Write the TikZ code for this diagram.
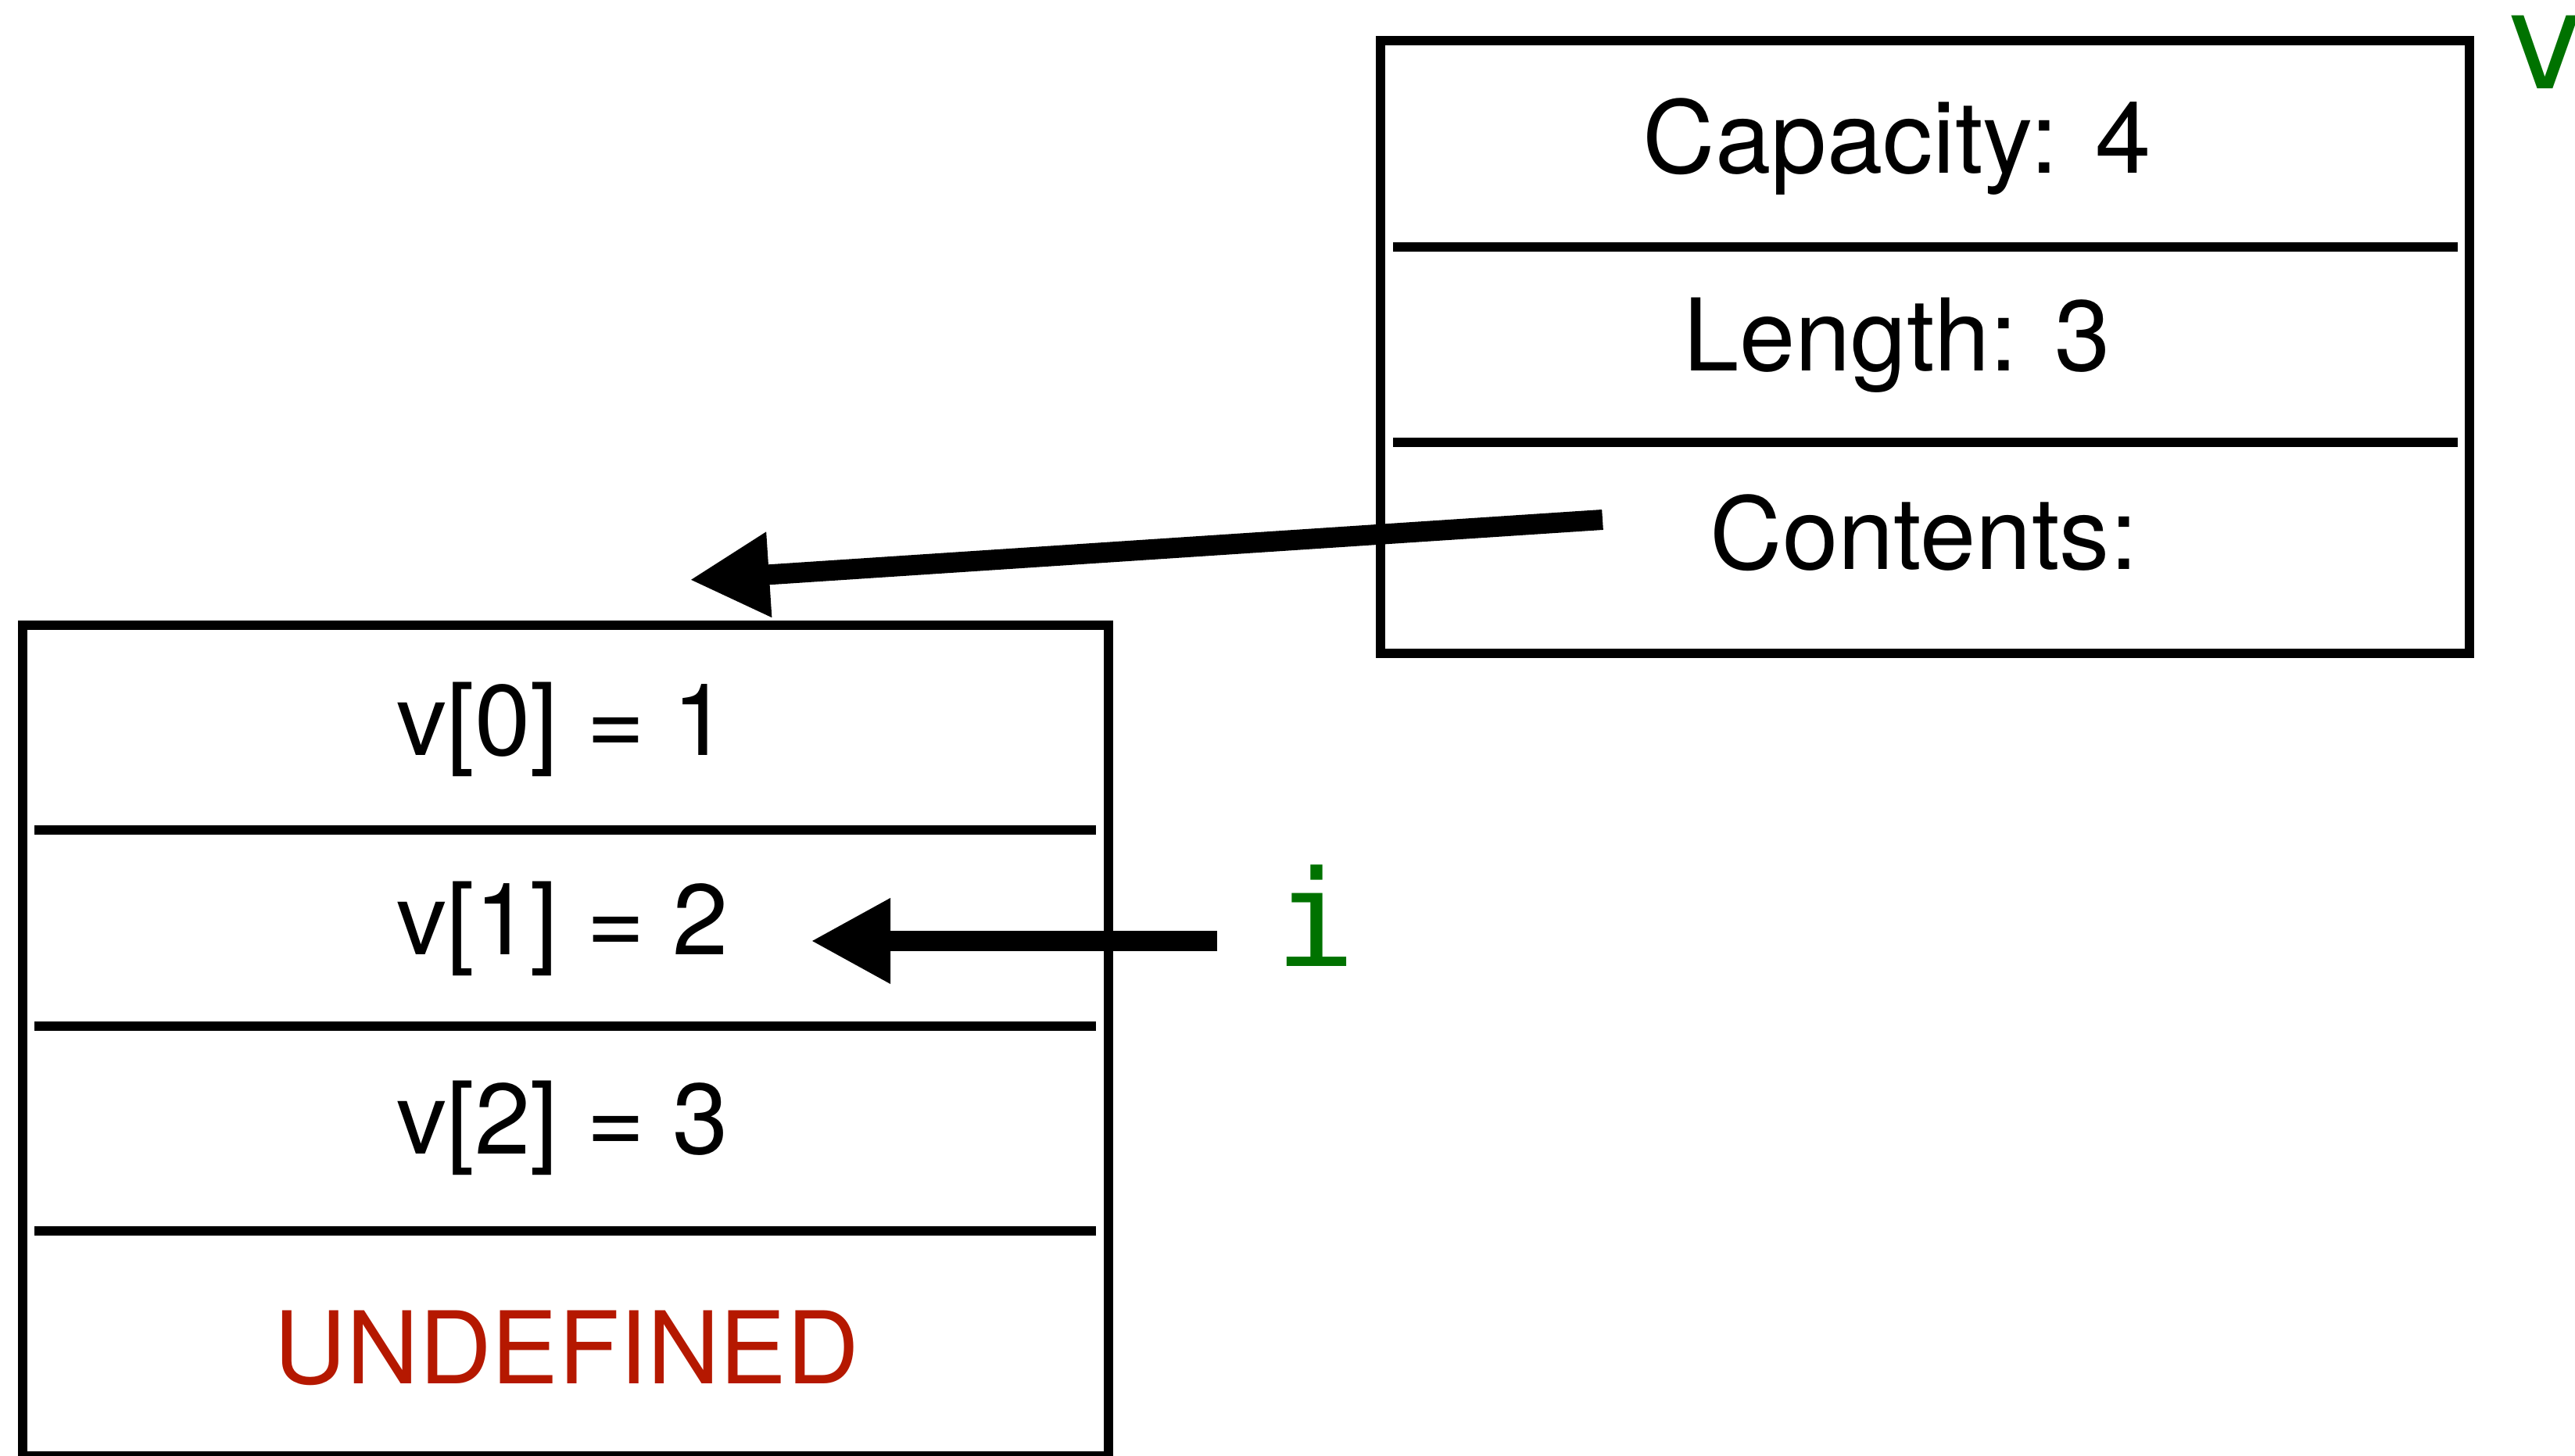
\documentclass[tikz,border=0pt]{standalone}
\usepackage{fontspec}
\setmainfont{TeX Gyre Heros}
\newfontfamily\codefont{DejaVu Sans Mono}
\usetikzlibrary{arrows.meta}
\definecolor{vargreen}{RGB}{0,114,0}
\definecolor{undefred}{RGB}{181,24,0}

\begin{document}
\begin{tikzpicture}[
  box/.style={line width=0.12cm},
  field/.style={anchor=base, inner sep=0pt, font=\fontsize{36.5}{44}\selectfont},
  var/.style={anchor=base, inner sep=0pt, text=vargreen, font=\codefont\fontsize{48.6}{58}\selectfont},
  ptr/.style={line width=0.26cm, -{Triangle[length=1.02cm,width=1.02cm]}}
]
\useasboundingbox (0,0) rectangle (32.94,18.62);
% the vector itself: three fields
\draw[box] (17.66,10.26) rectangle (31.59,18.10);
\draw[box] (17.82,15.46) -- (31.44,15.46);
\draw[box] (17.82,12.96) -- (31.44,12.96);
\node[field] (cap)  at (24.27,16.40) {Capacity: 4};
\node[field] (len)  at (24.27,13.87) {Length: 3};
\node[field] (cont) at (24.61,11.33) {Contents:};
\node[var] (vname) at (32.56,17.48) {v};
% the buffer it points to
\draw[box] (0.29,-0.01) rectangle (14.18,10.62);
\foreach \y in {8.00,5.49,2.87}
  \draw[box] (0.44,\y) -- (14.02,\y);
\node[field] (v0) at (7.20,8.95) {v[0] = 1};
\node[field] (v1) at (7.20,6.40) {v[1] = 2};
\node[field] (v2) at (7.20,3.85) {v[2] = 3};
\node[field, text=undefred] (undef) at (7.25,0.91) {UNDEFINED};
\node[var] (iter) at (16.83,6.25) {i};
% pointers
\coordinate (cont tail) at (20.50,11.97);
\coordinate (buf top) at (8.82,11.20);
\coordinate (iter tail) at (15.57,6.58);
\coordinate (slot one) at (10.37,6.58);
\draw[ptr] (cont tail) -- (buf top);
\draw[ptr] (iter tail) -- (slot one);
\end{tikzpicture}
\end{document}
